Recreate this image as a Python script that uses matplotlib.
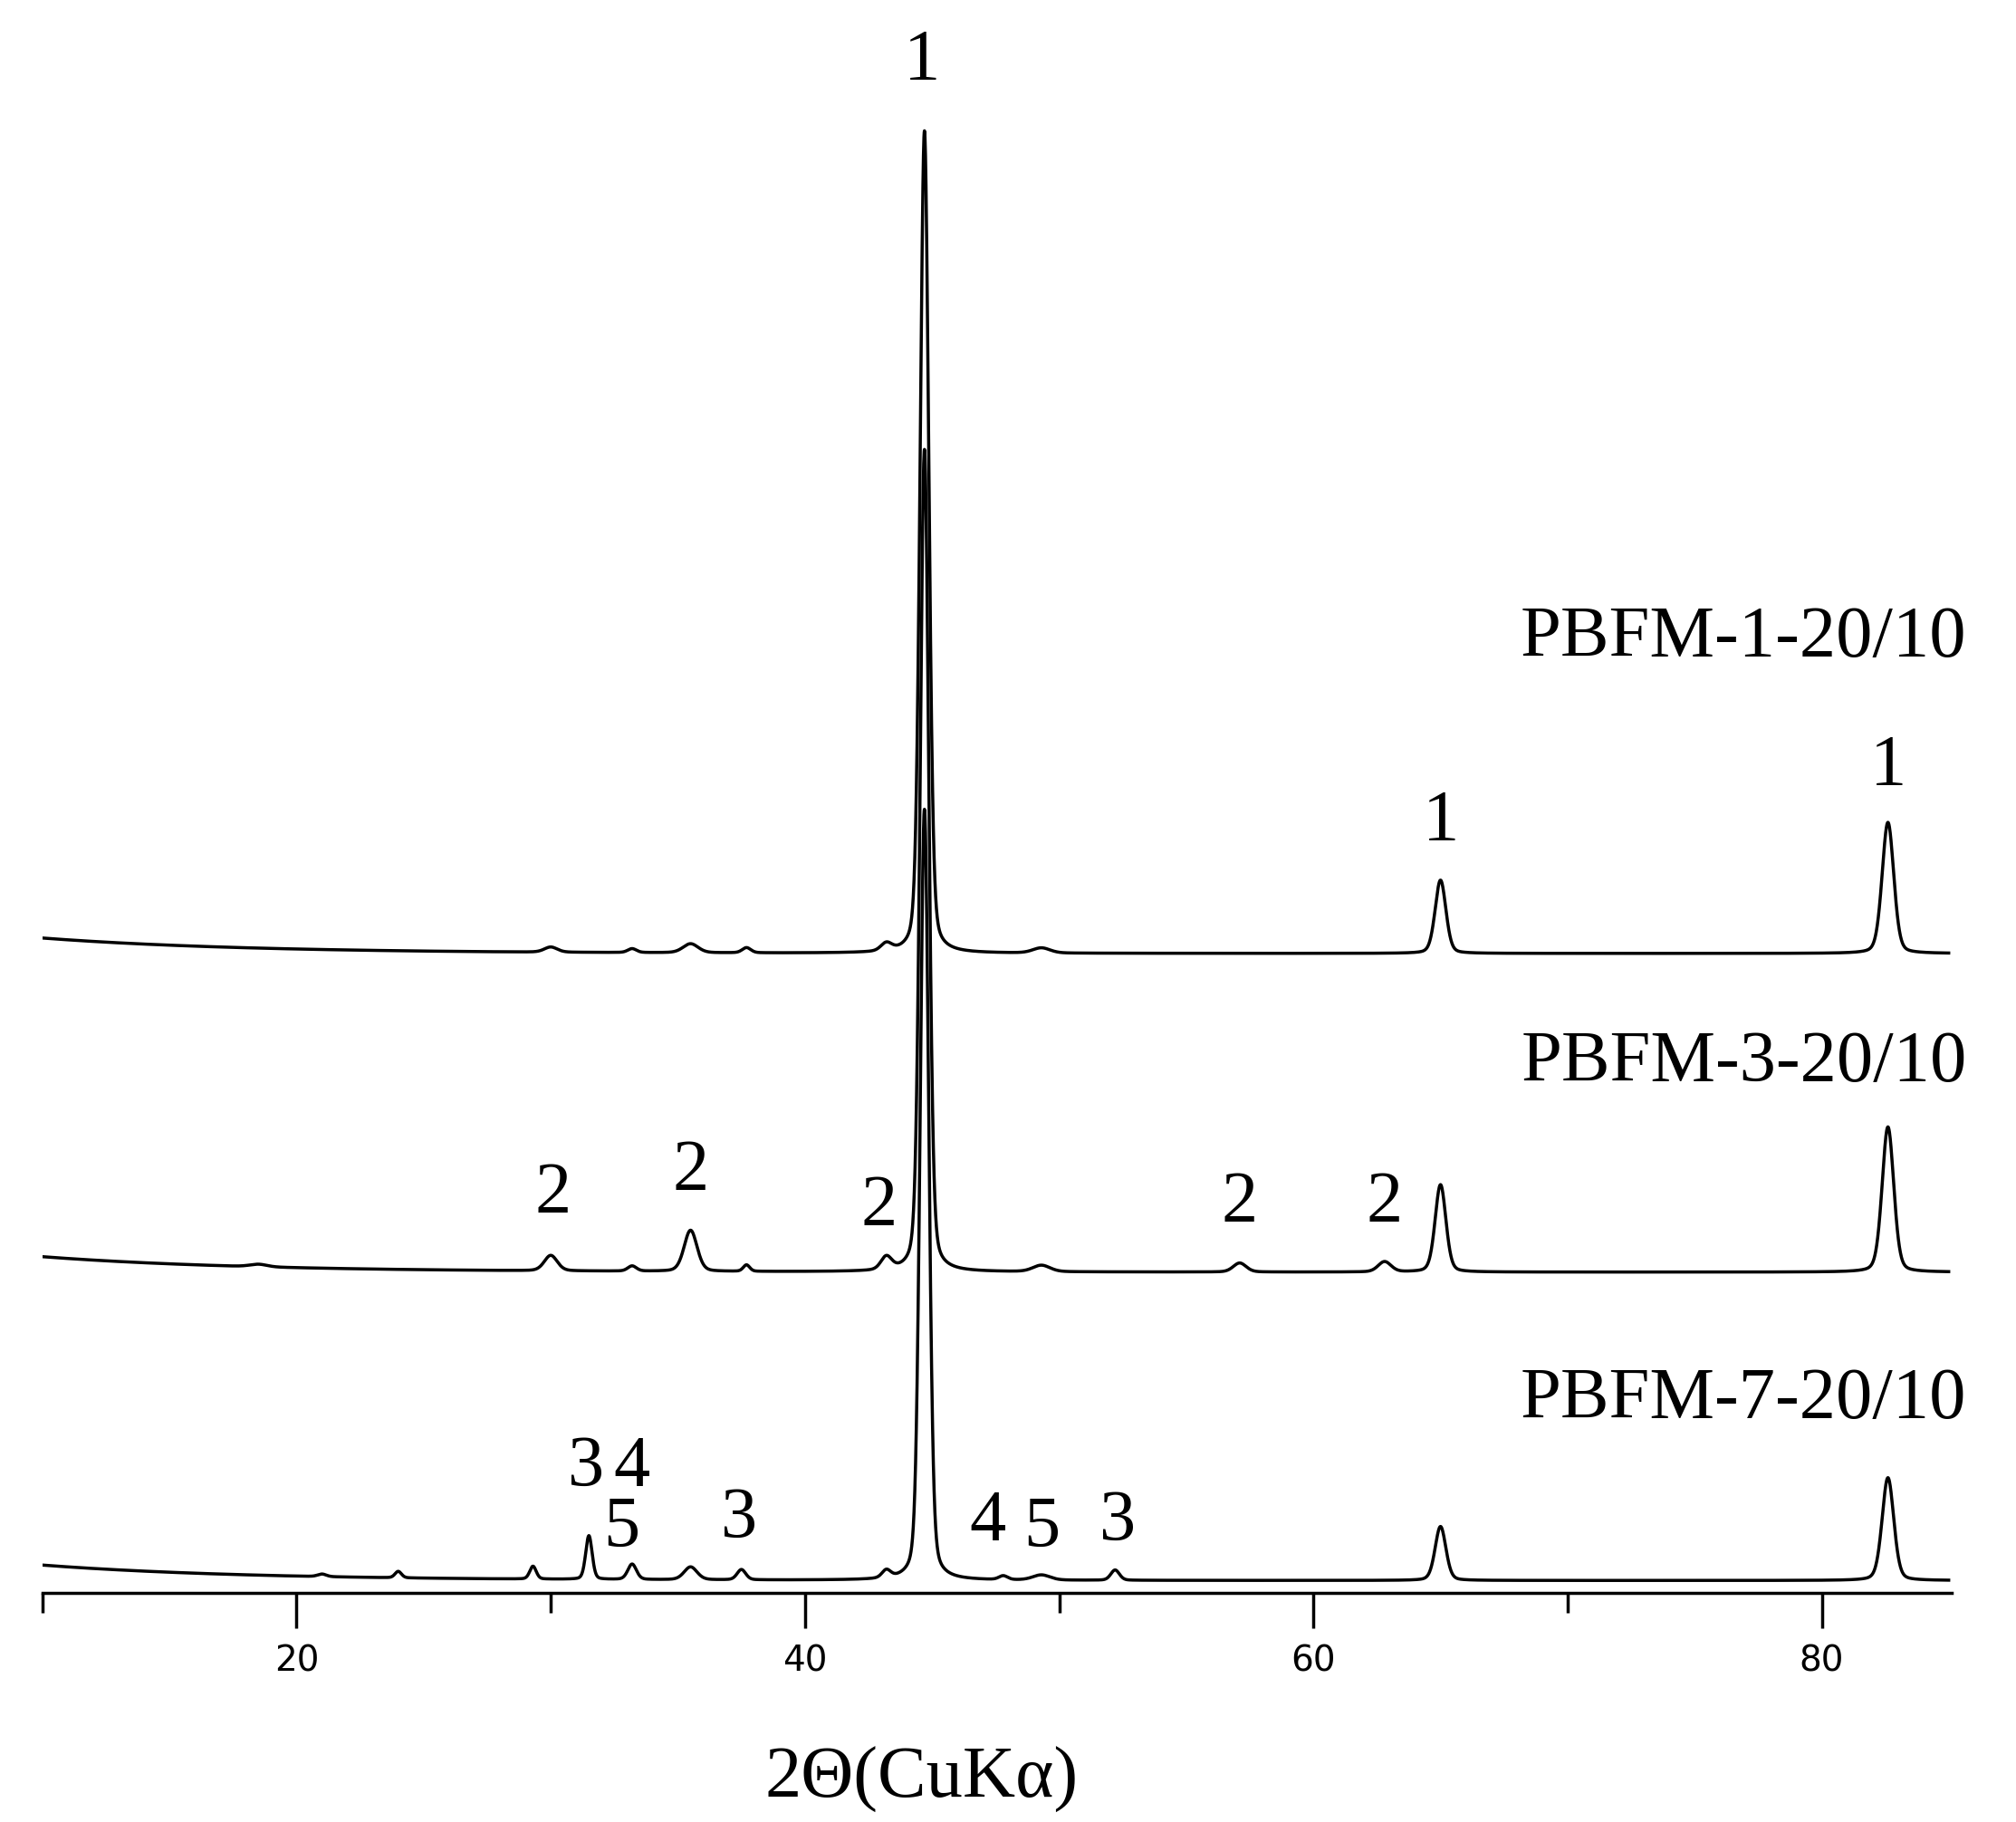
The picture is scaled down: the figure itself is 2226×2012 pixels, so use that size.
import numpy as np
import matplotlib
matplotlib.use("Agg")
import matplotlib.pyplot as plt

# peak tables: position (2theta), height, half-width
p1_pos = [30.0, 33.2, 35.5, 37.7, 43.2, 44.7, 49.3, 65.0, 82.6]
p1_h   = [4, 3, 7, 4, 6, 640, 4, 57, 102]
p1_w   = [0.3, 0.2, 0.35, 0.2, 0.25, 0.2, 0.4, 0.25, 0.27]

p3_pos = [18.5, 30.0, 33.2, 35.5, 37.7, 43.2, 44.7, 49.3, 57.1, 62.8, 65.0, 82.6]
p3_h   = [2, 12, 4, 32, 5, 10, 640, 5, 7, 8, 68, 113]
p3_w   = [0.4, 0.3, 0.2, 0.3, 0.15, 0.25, 0.2, 0.4, 0.3, 0.3, 0.25, 0.27]

p7_pos = [21.0, 24.0, 29.3, 31.5, 33.2, 35.5, 37.5, 43.2, 44.7, 47.8, 49.3, 52.2, 65.0, 82.6]
p7_h   = [2, 5, 10, 34, 12, 10, 8, 6, 600, 3, 4, 8, 42, 80]
p7_w   = [0.2, 0.15, 0.15, 0.15, 0.2, 0.3, 0.2, 0.2, 0.2, 0.2, 0.4, 0.2, 0.25, 0.27]

offsets = [498, 250, 10]
names = ["PBFM-1-20/10", "PBFM-3-20/10", "PBFM-7-20/10"]

x = np.arange(10, 85.0, 0.01)

def pattern(pos, h, w, off):
    y = off + 12 * np.exp(-(x - 10) / 8)
    for p, hh, ww in zip(pos, h, w):
        g = np.exp(-np.log(2) * ((x - p) / ww) ** 2)
        l = 1 / (1 + ((x - p) / ww) ** 2)
        y = y + hh * (0.75 * g + 0.25 * l)
    return y

fig = plt.figure(figsize=(22.26, 20.12), dpi=100)
ax = fig.add_axes([0.021, 0.1255, 0.947, 0.8745])
for pos, h, w, off in zip([p1_pos, p3_pos, p7_pos], [p1_h, p3_h, p7_h], [p1_w, p3_w, p7_w], offsets):
    ax.plot(x, pattern(pos, h, w, off), color="black", lw=2.5)

ax.set_xlim(10, 85.1)
ax.set_ylim(0, 1240)
for s in ["top", "left", "right"]:
    ax.spines[s].set_visible(False)
ax.spines["bottom"].set_linewidth(2.5)
ax.set_yticks([])
ax.set_xticks([20, 40, 60, 80])
ax.set_xticks([10, 30, 50, 70], minor=True)
ax.tick_params(axis="x", which="major", length=28, width=2.5, labelsize=28, pad=12)
ax.tick_params(axis="x", which="minor", length=16, width=2.5)

serif = "Liberation Serif"
fs = 58
ax.text(44.6, 1192, "1", family=serif, fontsize=fs, ha="center", va="center")
ax.text(65.0, 600, "1", family=serif, fontsize=fs, ha="center", va="center")
ax.text(82.6, 643, "1", family=serif, fontsize=fs, ha="center", va="center")
for n, yy in zip(names, [743, 412, 150]):
    ax.text(85.7, yy, n, family=serif, fontsize=fs, ha="right", va="center")
for xx, yy in [(30.1, 310), (35.5, 328), (42.9, 300), (57.1, 303), (62.8, 303)]:
    ax.text(xx, yy, "2", family=serif, fontsize=fs, ha="center", va="center")
for t, xx, yy in [("3", 31.4, 97), ("4", 33.2, 97), ("5", 32.8, 50), ("3", 37.4, 57),
                  ("4", 47.2, 55), ("5", 49.3, 50), ("3", 52.3, 55)]:
    ax.text(xx, yy, t, family=serif, fontsize=fs, ha="center", va="center")
ax.text(44.6, -145, "2Θ(CuKα)", family=serif, fontsize=fs, ha="center", va="center")

fig.savefig("out.png", dpi=100)
